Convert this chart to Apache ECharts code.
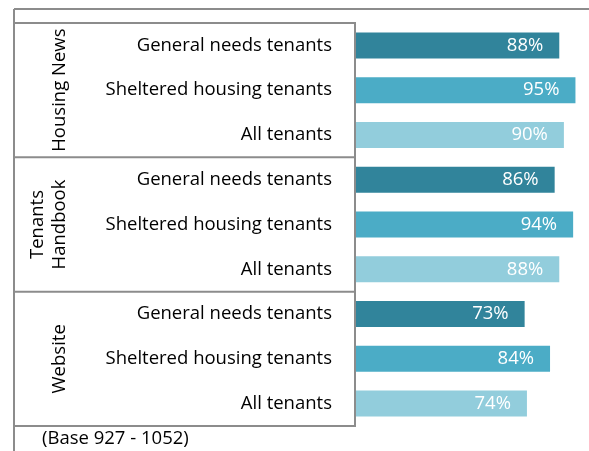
<!DOCTYPE html>
<html>
<head>
<meta charset="UTF-8">
<title>Chart</title>
<script src="https://cdn.jsdelivr.net/npm/echarts@6/dist/echarts.min.js"></script>
<style>
  html, body { margin: 0; padding: 0; background: #fff; }
  #main { width: 589px; height: 451px; }
</style>
</head>
<body>
<div id="main"></div>
<script>
var groups = ['Housing News', 'Tenants\nHandbook', 'Website'];
var subgroups = ['General needs tenants', 'Sheltered housing tenants', 'All tenants'];
var values = [88, 95, 90, 86, 94, 88, 73, 84, 74];
var colors = ['#31849b', '#4bacc6', '#92cddc'];

var categories = [];
var barData = [];
groups.forEach(function (g, gi) {
  subgroups.forEach(function (s, si) {
    categories.push(s);
    barData.push({ value: values[gi * 3 + si], itemStyle: { color: colors[si] } });
  });
});

var font = 'Open Sans';
var lineColor = '#8c8c8c';
var chart = echarts.init(document.getElementById('main'));

chart.setOption({
  animation: false,
  grid: { left: 356, right: 2, top: 23, bottom: 25 },
  xAxis: { type: 'value', min: 0, max: 100, show: false },
  yAxis: {
    type: 'category',
    inverse: true,
    data: categories,
    axisLine: { show: false },
    axisTick: { show: false },
    axisLabel: { margin: 24, color: '#000', fontFamily: font, fontSize: 18.5 }
  },
  series: [{
    type: 'bar',
    barWidth: 26,
    data: barData,
    label: {
      show: true,
      position: 'insideRight',
      distance: 16,
      color: '#fff',
      fontFamily: font,
      fontSize: 18.5,
      formatter: '{c}%'
    }
  }]
});

// table lines and group labels, placed from the axis scale
var leftX = 14, tableRight = 355;
var band = chart.convertToPixel({ yAxisIndex: 0 }, 1) - chart.convertToPixel({ yAxisIndex: 0 }, 0);
var topY = chart.convertToPixel({ yAxisIndex: 0 }, 0) - band / 2;
var bottomY = chart.convertToPixel({ yAxisIndex: 0 }, categories.length - 1) + band / 2;
var txtFont = '18.5px "' + font + '"';
var els = [
  { type: 'line', shape: { x1: leftX, y1: 9, x2: 589, y2: 9 }, style: { stroke: lineColor, lineWidth: 2 } },
  { type: 'line', shape: { x1: leftX, y1: 9, x2: leftX, y2: 451 }, style: { stroke: lineColor, lineWidth: 2 } },
  { type: 'rect', shape: { x: leftX, y: topY, width: tableRight - leftX, height: bottomY - topY }, style: { fill: 'none', stroke: lineColor, lineWidth: 2 } },
  { type: 'text', x: 42, y: 439, style: { text: '(Base 927 - 1052)', fill: '#000', font: txtFont, textVerticalAlign: 'middle' } }
];
groups.forEach(function (g, gi) {
  var y0 = chart.convertToPixel({ yAxisIndex: 0 }, gi * 3) - band / 2;
  var yc = chart.convertToPixel({ yAxisIndex: 0 }, gi * 3 + 1);
  if (gi > 0) {
    els.push({ type: 'line', shape: { x1: leftX, y1: y0, x2: tableRight, y2: y0 }, style: { stroke: lineColor, lineWidth: 2 } });
  }
  els.push({
    type: 'text', x: g.indexOf('\n') > 0 ? 49 : 60, y: yc, rotation: Math.PI / 2,
    style: { text: g, fill: '#000', font: txtFont, textAlign: 'center', textVerticalAlign: 'middle', lineHeight: 22 }
  });
});
chart.setOption({ graphic: els });
</script>
</body>
</html>
